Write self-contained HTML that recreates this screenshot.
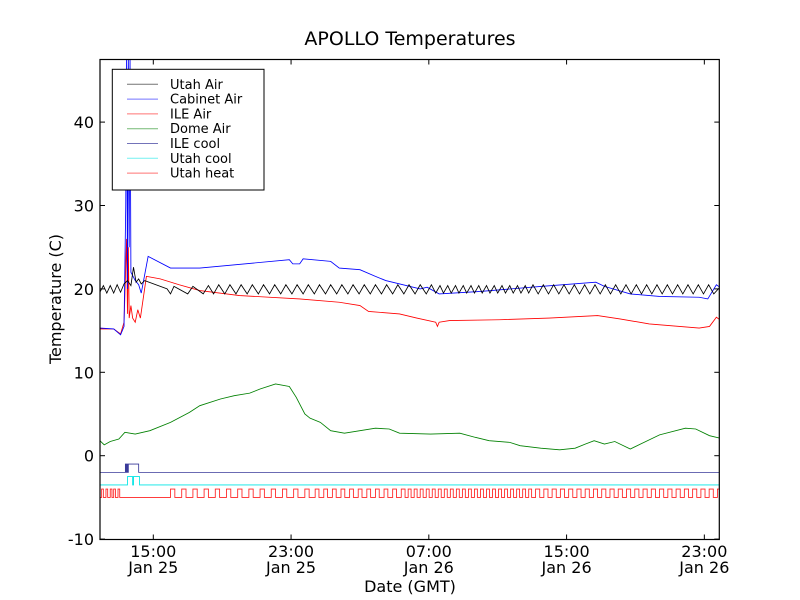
<!DOCTYPE html>
<html><head><meta charset="utf-8"><style>
html,body{margin:0;padding:0;background:#fff;}
svg{display:block;font-family:"DejaVu Sans","Liberation Sans",sans-serif;}
</style></head><body>
<svg id="chart" width="800" height="600" viewBox="0 0 800 600">
<defs><clipPath id="plotclip"><rect x="100" y="59.5" width="619.3" height="480"/></clipPath></defs>
<rect width="800" height="600" fill="#fff"/>
<text x="410" y="45" font-size="19" text-anchor="middle">APOLLO Temperatures</text>
<g id="series" clip-path="url(#plotclip)"></g>
<g id="axes"></g>
<text x="410" y="592" font-size="16" text-anchor="middle">Date (GMT)</text>
<text transform="translate(61,299) rotate(-90)" font-size="16" text-anchor="middle">Temperature (C)</text>
<g id="legend"></g>
</svg>
<script>
// hours relative to 15:00 Jan 25
const xTickHours = [0, 8, 16, 24, 32];
const xTickLabels1 = ["15:00","23:00","07:00","15:00","23:00"];
const xTickLabels2 = ["Jan 25","Jan 25","Jan 26","Jan 26","Jan 26"];
const yTicks = [-10, 0, 10, 20, 30, 40];

const utahAir = [[-3.1,19.6],[-2.9,20.4],[-2.7,19.5],[-2.5,20.4],[-2.3,19.5],[-2.1,20.5],[-1.9,19.6],[-1.7,20.6],[-1.5,21.0],[-1.3,20.4],[-1.15,22.6],[-1.0,20.8],[-0.85,21.2],[-0.7,20.6],[-0.5,21.0],[0.8,20.0],[1.0,19.4],[1.2,20.3],[2.0,19.4],[2.3,20.3],[2.9,19.4],[3.2,20.4],
[3.5,19.4],[3.8,20.5],[4.15,19.4],[4.45,20.5],[4.8,19.4],[5.1,20.5],[5.45,19.4],[5.75,20.5],[6.1,19.4],[6.4,20.5],[6.75,19.4],[7.05,20.5],[7.4,19.4],[7.7,20.5],[8.05,19.4],[8.35,20.5],[8.7,19.4],[9.0,20.5],[9.35,19.4],[9.65,20.5],[10.0,19.4],[10.3,20.5],[10.65,19.4],[10.95,20.5],[11.3,19.4],[11.6,20.5],[11.95,19.4],[12.25,20.5],[12.6,19.4],[12.9,20.5],[13.25,19.4],[13.55,20.5],[13.9,19.4],[14.2,20.5],[14.55,19.4],[14.85,20.5],[15.2,19.4],[15.5,20.5],[15.85,19.4],[16.15,20.5],
[16.4,19.5],[16.65,20.4],[16.85,19.5],[17.1,20.4],[17.3,19.5],[17.55,20.4],[17.75,19.5],[18.0,20.4],[18.2,19.5],[18.45,20.4],[18.65,19.5],[18.9,20.4],[19.1,19.5],[19.35,20.4],[19.55,19.5],[19.8,20.4],[20.0,19.5],[20.25,20.4],[20.45,19.5],[20.7,20.4],[20.9,19.5],[21.15,20.4],[21.35,19.5],[21.6,20.4],[21.8,19.5],[22.05,20.5],
[22.35,19.4],[22.65,20.5],[22.95,19.4],[23.25,20.5],[23.55,19.4],[23.85,20.5],[24.15,19.4],[24.45,20.5],[24.75,19.4],[25.05,20.5],[25.35,19.4],[25.65,20.5],[25.95,19.4],[26.25,20.5],[26.55,19.4],[26.85,20.5],[27.15,19.4],[27.45,20.5],[27.75,19.4],[28.05,20.5],[28.35,19.4],[28.65,20.5],[28.95,19.4],[29.25,20.5],[29.55,19.4],[29.85,20.5],[30.15,19.4],[30.45,20.5],[30.75,19.4],[31.05,20.5],[31.35,19.4],[31.65,20.5],[31.95,19.4],[32.25,20.5],[32.55,19.4],[32.9,20.2]];

const cabinetAir = [[-3.1,15.3],[-2.3,15.2],[-1.9,14.5],[-1.7,15.5],[-1.6,30],[-1.55,48],[-1.5,20],[-1.45,48],[-1.4,25],[-1.35,48],[-1.3,22],[-1.05,21],[-0.85,20.5],[-0.7,19.5],[-0.3,23.9],[1.0,22.5],[2.7,22.5],[7.9,23.5],[8.1,23.0],[8.5,23.0],[8.7,23.6],[10.3,23.3],[10.8,22.5],[12.0,22.3],[12.9,21.5],[13.5,21.0],[15.5,20.0],[15.9,20.2],[16.6,19.4],[19.0,19.7],[22.5,20.3],[25.7,20.8],[26.2,20.3],[27.7,19.4],[29.4,19.1],[31.7,19.0],[32.2,18.8],[32.7,20.5],[32.9,20.2]];

const ileAir = [[-3.1,15.2],[-2.3,15.2],[-1.9,14.6],[-1.7,16.0],[-1.55,26.0],[-1.5,17.0],[-1.45,25],[-1.4,16.5],[-1.3,18.0],[-1.2,16.5],[-1.05,16.0],[-0.9,17.5],[-0.75,16.5],[-0.4,21.5],[0.4,21.2],[1.5,20.5],[2.7,19.8],[5.0,19.2],[8.5,18.8],[10.8,18.4],[12.0,18.0],[12.5,17.3],[14.3,17.0],[15.3,16.5],[16.4,16.0],[16.5,15.5],[16.6,16.0],[17.2,16.2],[20.1,16.3],[23.0,16.5],[25.8,16.8],[27.1,16.4],[28.8,15.8],[31.7,15.3],[32.3,15.5],[32.7,16.6],[32.9,16.3]];

const domeAir = [[-3.1,1.8],[-2.85,1.3],[-2.5,1.7],[-2.0,2.0],[-1.65,2.8],[-1.05,2.6],[-0.2,3.0],[1.0,4.0],[2.1,5.2],[2.7,6.0],[3.9,6.8],[4.7,7.2],[5.6,7.5],[6.2,8.0],[7.1,8.6],[7.9,8.3],[8.3,7.0],[8.8,5.0],[9.1,4.5],[9.7,4.0],[10.3,3.0],[11.1,2.7],[12.0,3.0],[12.9,3.3],[13.7,3.2],[14.3,2.7],[16.1,2.6],[17.8,2.7],[18.7,2.2],[19.5,1.8],[20.7,1.6],[21.3,1.2],[22.5,0.9],[23.6,0.7],[24.5,0.9],[25.1,1.4],[25.6,1.8],[26.2,1.4],[26.8,1.7],[27.7,0.8],[28.3,1.4],[29.4,2.5],[30.9,3.3],[31.5,3.2],[32.3,2.4],[32.9,2.1]];

const ileCool = [[-3.1,-2],[-1.62,-2],[-1.62,-1],[-1.58,-1],[-1.58,-2],[-1.55,-2],[-1.55,-1],[-1.5,-1],[-1.5,-2],[-1.45,-2],[-1.45,-1],[-0.85,-1],[-0.85,-2],[32.9,-2]];
const utahCool = [[-3.1,-3.5],[-1.5,-3.5],[-1.5,-2.5],[-1.2,-2.5],[-1.2,-3.5],[-1.15,-3.5],[-1.15,-2.5],[-0.8,-2.5],[-0.8,-3.5],[32.9,-3.5]];

const heatStarts = [-3.0,-2.75,-2.5,-2.3,-2.05,1.0,1.65,2.3,2.95,3.6,4.25,4.9,5.55,6.2,6.85,7.5,8.15,8.8,9.4,9.9,10.4,10.9,11.4,11.9,12.4,12.9,13.4,13.9,14.4,14.8,15.15,15.5,15.85,16.2,16.55,16.9,17.25,17.6,17.95,18.3,18.65,19.0,19.35,19.7,20.05,20.4,20.75,21.1,21.45,21.8,22.2,22.68,23.16,23.64,24.12,24.6,25.08,25.56,26.04,26.52,27.0,27.48,27.96,28.44,28.92,29.4,29.88,30.36,30.84,31.32,31.8,32.28,32.76];
const heatDurations = [0.1,0.1,0.1,0.1,0.1,0.25,0.25,0.25,0.25,0.25,0.25,0.25,0.25,0.25,0.25,0.25,0.25,0.25,0.22,0.22,0.22,0.22,0.22,0.22,0.22,0.22,0.22,0.22,0.22,0.17,0.17,0.17,0.17,0.17,0.17,0.17,0.17,0.17,0.17,0.17,0.17,0.17,0.17,0.17,0.17,0.17,0.17,0.17,0.17,0.17,0.24,0.24,0.24,0.24,0.24,0.24,0.24,0.24,0.24,0.24,0.24,0.24,0.24,0.24,0.24,0.24,0.24,0.24,0.24,0.24,0.24,0.24,0.24];
const heatLevels = [-5, -4];

const X0 = 153.3, XPH = 17.22;
function xs(h){ return X0 + XPH*h; }
function ys(v){ return 455.7 - 8.34*v; }
const NS = "http://www.w3.org/2000/svg";
function mk(tag, attrs, parent){ const e=document.createElementNS(NS,tag); for(const k in attrs) e.setAttribute(k,attrs[k]); parent.appendChild(e); return e; }

const seriesG = document.getElementById('series');
function drawLine(pts, color, name){
  const d = pts.map((p,i)=>(i?'L':'M')+xs(p[0]).toFixed(2)+' '+ys(p[1]).toFixed(2)).join(' ');
  const p = mk('path',{d:d,fill:'none',stroke:color,'stroke-width':0.85,'stroke-linejoin':'miter'},seriesG);
  
  
}
const heatPts = [[-3.1, heatLevels[0]]];
for (let i=0;i<heatStarts.length;i++){
  heatPts.push([heatStarts[i],heatLevels[0]],[heatStarts[i],heatLevels[1]],[heatStarts[i]+heatDurations[i],heatLevels[1]],[heatStarts[i]+heatDurations[i],heatLevels[0]]);
}
heatPts.push([32.95, heatLevels[0]]);

drawLine(domeAir,'#008000','dome-air-line');
drawLine(ileAir,'#ff0000','ile-air-line');
drawLine(cabinetAir,'#0000ff','cabinet-air-line');
drawLine(utahAir,'#000000','utah-air-line');
drawLine(ileCool,'#3a3a9a','ile-cool-line');
drawLine(utahCool,'#00e5e5','utah-cool-line');
drawLine(heatPts,'#ff2020','utah-heat-line');

const axes = document.getElementById('axes');
const frame = mk('rect',{x:100,y:59.5,width:619.3,height:480,fill:'none',stroke:'#000','stroke-width':1.2},axes);


xTickHours.forEach((h,i)=>{
  const x = xs(h);
  mk('line',{x1:x,y1:539.5,x2:x,y2:534.5,stroke:'#000'},axes);
  mk('line',{x1:x,y1:59.5,x2:x,y2:64.5,stroke:'#000'},axes);
  const t1 = mk('text',{x:x,y:557,'font-size':16,'text-anchor':'middle'},axes);
  t1.textContent = xTickLabels1[i];
  
  
  const t2 = mk('text',{x:x,y:573,'font-size':16,'text-anchor':'middle'},axes);
  t2.textContent = xTickLabels2[i];
  
  
});
yTicks.forEach(v=>{
  const y = ys(v);
  mk('line',{x1:100,y1:y,x2:105,y2:y,stroke:'#000'},axes);
  mk('line',{x1:719.3,y1:y,x2:714.3,y2:y,stroke:'#000'},axes);
  const t = mk('text',{x:94,y:y+6,'font-size':16,'text-anchor':'end'},axes);
  t.textContent = String(v);
  
  
});

const legendNames = ["Utah Air","Cabinet Air","ILE Air","Dome Air","ILE cool","Utah cool","Utah heat"];
const legendColors = ["#000000","#0000ff","#ff0000","#008000","#000080","#00e5e5","#ff0000"];
const lg = document.getElementById('legend');
mk('rect',{x:112.3,y:69.3,width:151.7,height:120.7,fill:'#fff',stroke:'#000','stroke-width':1},lg);
legendNames.forEach((n,i)=>{
  const y = 84.3 + i*14.8;
  const g = mk('g',{},lg);
  
  
  mk('line',{x1:127,y1:y,x2:158,y2:y,stroke:legendColors[i],'stroke-opacity':0.55,'stroke-width':1},g);
  const t = mk('text',{x:170,y:y+4.5,'font-size':13},g);
  t.textContent = n;
});
</script>
</body></html>
